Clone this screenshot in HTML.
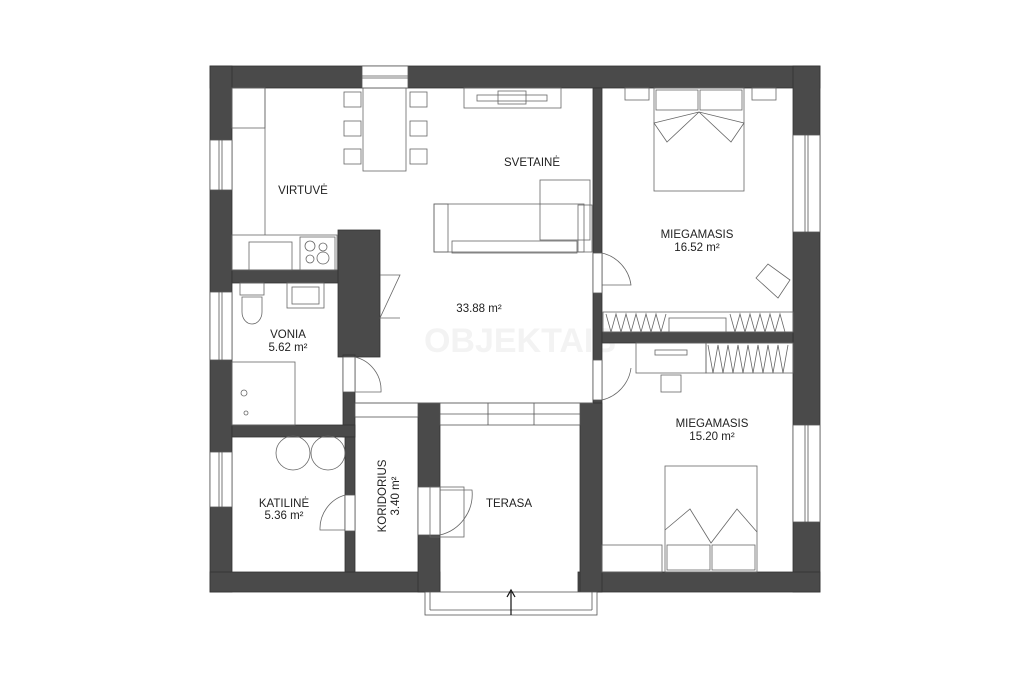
<!DOCTYPE html>
<html><head><meta charset="utf-8"><style>
html,body{margin:0;padding:0;background:#fff;}
svg{display:block}
text{font-family:"Liberation Sans",Arial,sans-serif;font-size:11.5px;fill:#222;text-anchor:middle}
</style></head><body>
<svg width="1024" height="683" viewBox="0 0 1024 683" xmlns="http://www.w3.org/2000/svg">
<rect width="1024" height="683" fill="#fff"/>
<!-- watermark -->
<text x="520" y="352" style="font-size:34px;font-weight:bold;fill:#f3f3f3">OBJEKTAIS</text>
<g fill="#4a4a4a" stroke="#333" stroke-width="0.8">
<rect x="210" y="66" width="610" height="22"/>
<rect x="210" y="66" width="22" height="526"/>
<rect x="793" y="66" width="27" height="526"/>
<rect x="210" y="572" width="230" height="20"/>
<rect x="578" y="572" width="242" height="20"/>
<rect x="593" y="88" width="9" height="484"/>
<rect x="580" y="403" width="22" height="189"/>
<rect x="602" y="332" width="191" height="11"/>
<rect x="232" y="270" width="110" height="13"/>
<rect x="338" y="230" width="42" height="127"/>
<rect x="343" y="355" width="12" height="82"/>
<rect x="232" y="425" width="123" height="12"/>
<rect x="345" y="437" width="10" height="135"/>
<rect x="418" y="403" width="22" height="189"/>
</g>
<g fill="#fff" stroke="#555" stroke-width="0.8">
<rect x="362" y="66" width="46" height="22"/>
<line x1="362" y1="76" x2="408" y2="76"/><line x1="362" y1="78" x2="408" y2="78"/>
<rect x="210" y="140" width="22" height="50"/><line x1="219" y1="140" x2="219" y2="190"/><line x1="222" y1="140" x2="222" y2="190"/>
<rect x="210" y="292" width="22" height="68"/><line x1="219" y1="292" x2="219" y2="360"/><line x1="222" y1="292" x2="222" y2="360"/>
<rect x="210" y="452" width="22" height="55"/><line x1="219" y1="452" x2="219" y2="507"/><line x1="222" y1="452" x2="222" y2="507"/>
<rect x="793" y="135" width="27" height="97"/><line x1="805" y1="135" x2="805" y2="232"/><line x1="808" y1="135" x2="808" y2="232"/>
<rect x="793" y="425" width="27" height="97"/><line x1="805" y1="425" x2="805" y2="522"/><line x1="808" y1="425" x2="808" y2="522"/>
<rect x="593" y="253" width="9" height="40"/>
<rect x="593" y="360" width="9" height="40"/>
<rect x="343" y="357" width="12" height="35"/>
<rect x="345" y="495" width="10" height="36"/>
<rect x="418" y="487" width="22" height="48"/>
<rect x="355" y="403" width="63" height="14"/>
<rect x="440" y="403" width="140" height="22"/>
<line x1="440" y1="414" x2="580" y2="414"/>
<line x1="488" y1="403" x2="488" y2="425"/><line x1="534" y1="403" x2="534" y2="425"/>
<rect x="425" y="592" width="172" height="23"/>
<line x1="430" y1="592" x2="430" y2="610"/><line x1="430" y1="610" x2="592" y2="610"/><line x1="592" y1="592" x2="592" y2="610"/>
</g>
<g fill="none" stroke="#666" stroke-width="0.8">
<line x1="355" y1="403" x2="593" y2="403"/>
<path d="M602 253 A38 38 0 0 1 631 285 L602 285"/>
<path d="M602 400 A38 38 0 0 0 631 368"/>
<path d="M355 357 A34 34 0 0 1 381 392 L355 392"/>
<path d="M345 495 A35 35 0 0 0 320 530 L345 530"/>
<path d="M440 535 A42 42 0 0 0 472 490 L440 490"/>
<rect x="430" y="487" width="34" height="50"/>
<line x1="265" y1="88" x2="265" y2="235"/>
<rect x="232" y="88" width="33" height="40"/>
<rect x="232" y="235" width="105" height="35"/>
<rect x="249" y="242" width="43" height="28"/>
<rect x="300" y="237" width="35" height="33"/>
<circle cx="310" cy="246" r="5"/><circle cx="323" cy="247" r="4"/><circle cx="310" cy="259" r="4"/><circle cx="323" cy="258" r="6"/>
<rect x="363" y="88" width="43" height="83"/>
<rect x="344" y="92" width="17" height="15"/><rect x="344" y="121" width="17" height="15"/><rect x="344" y="149" width="17" height="15"/>
<rect x="410" y="92" width="17" height="15"/><rect x="410" y="121" width="17" height="15"/><rect x="410" y="149" width="17" height="15"/>
<rect x="464" y="88" width="97" height="20"/>
<rect x="477" y="95" width="70" height="6"/><rect x="498" y="91" width="28" height="13"/>
<rect x="434" y="204" width="150" height="48"/>
<rect x="540" y="180" width="50" height="60"/>
<rect x="452" y="241" width="125" height="12"/>
<rect x="434" y="204" width="14" height="48"/>
<rect x="578" y="205" width="14" height="47"/>
<path d="M380 275 L400 275 L380 318 L400 318"/>
<rect x="240" y="283" width="24" height="12"/>
<path d="M242 297 L262 297 L262 312 A10 12 0 0 1 242 312 Z"/>
<rect x="287" y="283" width="37" height="25"/>
<rect x="292" y="287" width="27" height="17"/>
<rect x="232" y="362" width="63" height="63"/>
<circle cx="244" cy="393" r="3"/><circle cx="246" cy="413" r="2"/>
<circle cx="293" cy="453" r="17"/><circle cx="328" cy="453" r="17"/>
<rect x="625" y="88" width="24" height="12"/><rect x="752" y="88" width="24" height="12"/>
<rect x="654" y="88" width="90" height="103"/>
<rect x="656" y="90" width="42" height="20"/><rect x="700" y="90" width="42" height="20"/>
<path d="M654 123 L699 112 L744 123 L731 142 L699 112 L667 142 Z"/>
<path d="M756 278 L768 264 L790 280 L778 298 Z"/>
<rect x="603" y="312" width="190" height="20"/>
<rect x="669" y="318" width="57" height="14"/>
<path d="M606 314 l5 18 l5 -18 l5 18 l5 -18 l5 18 l5 -18 l5 18 l5 -18 l5 18 l5 -18 l5 18 l5 -18"/>
<path d="M730 314 l5 18 l5 -18 l5 18 l5 -18 l5 18 l5 -18 l5 18 l5 -18 l5 18 l5 -18 l5 18"/>
<rect x="636" y="343" width="70" height="30"/>
<rect x="655" y="350" width="32" height="5"/>
<rect x="661" y="375" width="20" height="17"/>
<rect x="706" y="343" width="87" height="30"/>
<path d="M708 345 l5 28 l5 -28 l5 28 l5 -28 l5 28 l5 -28 l5 28 l5 -28 l5 28 l5 -28 l5 28 l5 -28 l5 28 l5 -28 l5 28 l5 -28"/>
<rect x="665" y="466" width="92" height="106"/>
<rect x="667" y="545" width="43" height="25"/><rect x="712" y="545" width="43" height="25"/>
<path d="M665 530 L690 509 L711 543 L737 509 L757 532"/>
<rect x="602" y="545" width="60" height="27"/>
</g>
<line x1="511" y1="592" x2="511" y2="615" stroke="#111" stroke-width="1.2"/>
<path d="M507 597 L511 590 L515 597" fill="none" stroke="#111" stroke-width="1.2"/>
<text x="303" y="194">VIRTUVĖ</text>
<text x="532" y="166">SVETAINĖ</text>
<text x="479" y="312">33.88 m²</text>
<text x="288" y="338">VONIA</text>
<text x="288" y="351">5.62 m²</text>
<text x="284" y="507">KATILINĖ</text>
<text x="284" y="519">5.36 m²</text>
<text x="509" y="507">TERASA</text>
<text x="697" y="238">MIEGAMASIS</text>
<text x="697" y="251">16.52 m²</text>
<text x="712" y="427">MIEGAMASIS</text>
<text x="712" y="440">15.20 m²</text>
<text transform="translate(386,496) rotate(-90)">KORIDORIUS</text>
<text transform="translate(399,496) rotate(-90)">3.40 m²</text>
</svg>
</body></html>
